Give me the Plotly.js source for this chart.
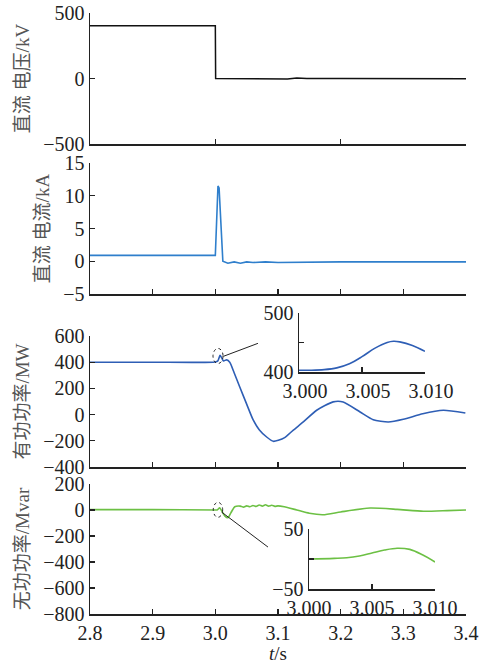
<!DOCTYPE html>
<html><head><meta charset="utf-8">
<script src="https://cdn.plot.ly/plotly-3.0.1.min.js"></script>
<style>html,body{margin:0;padding:0;background:#fff}#c{width:479px;height:665px}</style>
</head><body><div id="c"></div>
<script>
// ---- data ----
const tVolt = [2.8, 2.9, 3.0, 3.0005, 3.01, 3.08, 3.103, 3.115, 3.13, 3.146, 3.2, 3.3, 3.4];
const volt  = [402, 402, 402, 0, 0, 0, 0, -4, 3, 0, 0, -1, -1];

const tCurr = [2.8, 2.9, 3.0, 3.0042, 3.006, 3.012, 3.02, 3.03, 3.04, 3.05, 3.06, 3.08, 3.1, 3.2, 3.3, 3.4];
const curr  = [0.9, 0.9, 0.9, 11.5, 11.2, 0, -0.3, -0.1, -0.3, -0.1, -0.2, -0.1, -0.2, -0.1, -0.1, -0.1];

const tP = [2.8, 2.9, 3.0, 3.004, 3.0075, 3.010, 3.013, 3.018, 3.023, 3.03, 3.039, 3.05, 3.0606, 3.07, 3.0819, 3.0925, 3.1005, 3.1106, 3.124, 3.1404, 3.1617, 3.188, 3.204, 3.231, 3.252, 3.276, 3.300, 3.331, 3.364, 3.399];
const P  = [400, 400, 402, 410, 452, 435, 410, 418, 400, 320, 211, 80, -43, -115, -171, -204, -196, -176, -120, -56, 33, 97, 96, 20, -39, -56, -36, 7, 33, 12];

const tQ = [2.8, 2.9, 3.0, 3.003, 3.007, 3.010, 3.015, 3.02, 3.025, 3.031, 3.04, 3.045, 3.05, 3.055, 3.06, 3.065, 3.07, 3.075, 3.08, 3.085, 3.09, 3.095, 3.10, 3.11, 3.13, 3.15, 3.172, 3.2, 3.247, 3.29, 3.332, 3.37, 3.4];
const Q  = [3, 3, 0, 0, 17, -5, -45, -60, -20, 25, 30, 22, 32, 25, 35, 28, 38, 30, 40, 30, 36, 28, 32, 25, 0, -25, -36, -15, 15, 5, -10, -5, 0];

const tPin = [3.000, 3.001, 3.002, 3.003, 3.004, 3.005, 3.006, 3.007, 3.0075, 3.008, 3.009, 3.010];
const Pin  = [403, 403, 404, 407, 414, 426, 440, 450, 452, 451, 445, 435];

const tQin = [3.000, 3.002, 3.003, 3.004, 3.005, 3.006, 3.007, 3.008, 3.009, 3.010];
const Qin  = [0, 1, 2, 5, 10, 15, 18, 16, 7, -5];

const yTicks1 = [-500, 0, 500];
const yTicks2 = [-5, 0, 5, 10, 15];
const yTicks3 = [-400, -200, 0, 200, 400, 600];
const yTicks4 = [-800, -600, -400, -200, 0, 200];
const inTicksX = [3.000, 3.005, 3.010];
const inTicksXText = ['3.000', '3.005', '3.010'];
const in1TicksY = [400, 450, 500];
const in1TicksYText = ['400', '', '500'];
const in2TicksY = [-50, 0, 50];
const in2TicksYText = ['\u221250', '', '50'];

const titles = ['直流 电压/kV', '直流 电流/kA', '有功功率/MW', '无功功率/Mvar'];
const xTitle = '<i>t</i>/s';

// ---- layout helpers ----
const W = 479, H = 665;
const px = (a, b) => [a / W, b / W];
const py = (top, bot) => [1 - bot / H, 1 - top / H];
const numFont = {family: 'Liberation Serif, Times New Roman, serif', size: 20, color: '#222'};
const titleFont = {family: 'Liberation Serif, Noto Sans CJK SC, serif', size: 19, color: '#555'};

const common = {ticks: 'inside', ticklen: 5, tickcolor: '#222', tickwidth: 1.2,
  showline: true, linecolor: '#222', linewidth: 1.5, showgrid: false, zeroline: false,
  tickfont: numFont, ticklabeloverflow: 'allow'};

function xAx(anchor, dtick, labels) {
  return Object.assign({}, common, {domain: px(90, 466), anchor: anchor, range: [2.8, 3.4], dtick: dtick, tick0: 2.8,
    showticklabels: labels, tickformat: '.1f'});
}
function yAx(anchor, dom, range, tv, title) {
  return Object.assign({}, common, {domain: dom, anchor: anchor, range: range, tickvals: tv,
    title: {text: title, font: titleFont, standoff: 8}});
}

const traces = [
  {x: tVolt, y: volt, xaxis: 'x2', yaxis: 'y2', mode: 'lines', line: {color: '#111', width: 1.5}},
  {x: tCurr, y: curr, xaxis: 'x3', yaxis: 'y3', mode: 'lines', line: {color: '#2f7fcc', width: 1.6}},
  {x: tP, y: P, xaxis: 'x4', yaxis: 'y4', mode: 'lines', line: {color: '#2e5eb5', width: 1.6, shape: 'spline', smoothing: 0.6}},
  {x: tQ, y: Q, xaxis: 'x', yaxis: 'y', mode: 'lines', line: {color: '#6cc044', width: 1.6, shape: 'spline', smoothing: 0.6}},
  {x: tPin, y: Pin, xaxis: 'x5', yaxis: 'y5', mode: 'lines', line: {color: '#2e5eb5', width: 1.6, shape: 'spline'}},
  {x: tQin, y: Qin, xaxis: 'x6', yaxis: 'y6', mode: 'lines', line: {color: '#6cc044', width: 1.6, shape: 'spline'}}
];

const insetX = (anchor, dom, shift) => Object.assign({}, common, {domain: dom, anchor: anchor, range: [3.000, 3.010],
  tickvals: inTicksX, ticktext: inTicksXText, ticklabelshift: shift});
const insetY = (anchor, dom, range, tv, tt) => Object.assign({}, common, {domain: dom, anchor: anchor, range: range,
  tickvals: tv, ticktext: tt});

const layout = {
  width: W, height: H, margin: {l: 0, r: 0, t: 0, b: 0}, showlegend: false,
  paper_bgcolor: '#fff', plot_bgcolor: 'rgba(0,0,0,0)',
  xaxis: xAx('y', 0.1, true),
  yaxis: yAx('x', py(484, 614), [-800, 200], yTicks4, titles[3]),
  xaxis2: xAx('y2', 0.2, false),
  yaxis2: yAx('x2', py(13, 144), [-500, 500], yTicks1, titles[0]),
  xaxis3: xAx('y3', 0.1, false),
  yaxis3: yAx('x3', py(163, 294), [-5, 15], yTicks2, titles[1]),
  xaxis4: xAx('y4', 0.1, false),
  yaxis4: yAx('x4', py(336, 467), [-400, 600], yTicks3, titles[2]),
  xaxis5: insetX('y5', px(299, 425), 6),
  yaxis5: insetY('x5', py(313, 372), [400, 500], in1TicksY, in1TicksYText),
  xaxis6: insetX('y6', px(309, 435), 0),
  yaxis6: insetY('x6', py(529, 589), [-50, 50], in2TicksY, in2TicksYText),
  annotations: [
    {text: xTitle, xref: 'paper', yref: 'paper', x: 278 / W, y: 0, xanchor: 'center', yanchor: 'bottom',
     borderpad: 0, showarrow: false, font: {family: 'Liberation Serif, serif', size: 19, color: '#222'}}
  ],
  shapes: [
    {type: 'circle', xref: 'x4', yref: 'y4', x0: 2.9963, x1: 3.0123, y0: 390, y1: 505, line: {color: '#222', width: 1, dash: 'dot'}},
    {type: 'line', xref: 'x4', yref: 'y4', x0: 3.013, y0: 445, x1: 3.068, y1: 544, line: {color: '#222', width: 1}},
    {type: 'circle', xref: 'x', yref: 'y', x0: 2.9967, x1: 3.0117, y0: -56, y1: 59, line: {color: '#222', width: 1, dash: 'dot'}},
    {type: 'line', xref: 'x', yref: 'y', x0: 3.0106, y0: -18, x1: 3.084, y1: -285, line: {color: '#222', width: 1}}
  ]
};

Plotly.newPlot('c', traces, layout, {staticPlot: true, displayModeBar: false});
</script></body></html>
